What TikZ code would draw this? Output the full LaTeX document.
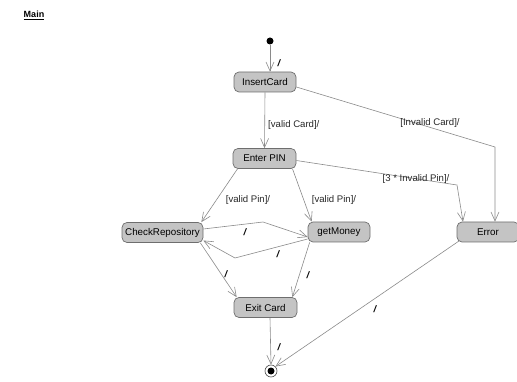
\documentclass[tikz,border=0pt]{standalone}
\usepackage{fontspec}
\setmainfont{Liberation Sans}
\usetikzlibrary{arrows.meta}
\definecolor{stfill}{HTML}{C4C4C4}
\definecolor{stdraw}{HTML}{6E6E6E}
\definecolor{edgecol}{HTML}{8A8A8A}
\begin{document}
\begin{tikzpicture}[x=1pt,y=-1pt,
  state/.style={draw=stdraw,fill=stfill,rounded corners=5pt,line width=0.7pt,
    minimum height=20pt,inner sep=0pt,font=\fontsize{9.8}{11}\selectfont},
  trans/.style={draw=edgecol,line width=0.6pt,
    -{Straight Barb[length=9pt,width=8pt,line width=0.6pt]}},
  guard/.style={inner sep=0pt,text=black!85,font=\fontsize{9.6}{11}\selectfont},
  tick/.style={inner sep=0pt,font=\fontsize{9.5}{10}\bfseries\itshape\selectfont}]
\useasboundingbox (0,0) rectangle (517,382);

% title
\node[inner sep=0pt,font=\fontsize{9}{10}\bfseries\selectfont] (title) at (34,15) {\underline{Main}};

% states
\node[state,minimum width=62pt] (ins) at (265,82) {InsertCard};
\node[state,minimum width=63pt] (pin) at (264.5,158.5) {Enter PIN};
\node[state,minimum width=81pt] (chk) at (162.5,232.5) {CheckRepository};
\node[state,minimum width=62pt] (gm) at (339,232) {getMoney};
\node[state,minimum width=62pt] (err) at (488,232) {Error};
\node[state,minimum width=63pt] (ex) at (265.5,307.5) {Exit Card};

% pseudo states
\node[circle,fill=black,inner sep=0pt,minimum size=7pt] (init) at (270,41) {};
\node[circle,draw=black!70,line width=0.6pt,inner sep=0pt,minimum size=12pt] (fin) at (271,371) {};
\node[circle,fill=black,inner sep=0pt,minimum size=7pt] (fincore) at (fin) {};

% bend points
\coordinate (b1) at (495,147);
\coordinate (b2) at (457,185);
\coordinate (b3) at (263,222);
\coordinate (b4) at (235,258);

% transitions
\draw[trans] (init) -- (init |- ins.north);
\draw[trans] (ins.south) -- (pin.north);
\draw[trans] ([yshift=-5pt]ins.east) -- (b1) -- (b1 |- err.north);
\draw[trans] ([yshift=-2pt]pin.east) -- (b2) -- ([xshift=-25pt]err.north);
\draw[trans] ([xshift=-27pt]pin.south) -- ([xshift=-2pt]chk.north east);
\draw[trans] ([xshift=28pt]pin.south) -- ([xshift=4pt]gm.north west);
\draw[trans] ([yshift=3.5pt]chk.east) -- (b3) -- ([yshift=-5pt]gm.west);
\draw[trans] ([yshift=-7pt]gm.west) -- (b4) -- ([yshift=-8pt]chk.east);
\draw[trans] ([xshift=-3pt]chk.south east) -- ([xshift=3pt]ex.north west);
\draw[trans] ([xshift=2pt]gm.south west) -- ([xshift=-5pt]ex.north east);
\draw[trans] ([xshift=4.5pt]ex.south) -- (fin.north);
\draw[trans] ([yshift=-9pt,xshift=-29pt]err.center) -- (fin.north east);

% guards
\node[guard,anchor=west] (gvc) at (268,125.5) {[valid Card]/};
\node[guard] (gic) at (430,123) {[Invalid Card]/};
\node[guard] (g3p) at (416,179) {[3 * Invalid Pin]/};
\node[guard] (gvp1) at (248,200) {[valid Pin]/};
\node[guard] (gvp2) at (334,200) {[valid Pin]/};

% empty actions
\node[tick] (t1) at (279,63) {/};
\node[tick] (t2) at (245,232) {/};
\node[tick] (t3) at (278,254) {/};
\node[tick] (t4) at (226,274) {/};
\node[tick] (t5) at (308,275) {/};
\node[tick] (t6) at (279,347) {/};
\node[tick] (t7) at (375,309) {/};
\end{tikzpicture}
\end{document}
